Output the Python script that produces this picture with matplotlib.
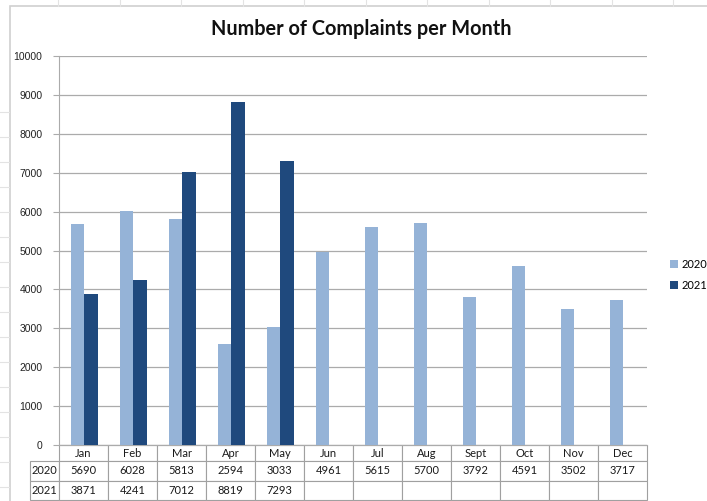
import numpy as np
import matplotlib
matplotlib.use("Agg")
import matplotlib.pyplot as plt
from matplotlib.patches import Rectangle

# monthly complaint counts
months = ["Jan", "Feb", "Mar", "Apr", "May", "Jun", "Jul", "Aug", "Sept", "Oct", "Nov", "Dec"]
counts_2020 = [5690, 6028, 5813, 2594, 3033, 4961, 5615, 5700, 3792, 4591, 3502, 3717]
counts_2021 = [3871, 4241, 7012, 8819, 7293]
series_names = ["2020", "2021"]
y_ticks = list(range(0, 10001, 1000))

W, H = 707, 501
light = "#95B3D7"
dark = "#1F497D"
grid_col = "#ABABAB"

plt.rcParams["font.family"] = ["Liberation Sans", "DejaVu Sans"]
fig = plt.figure(figsize=(W / 100, H / 100), dpi=100)

# faint spreadsheet grid behind the chart object
for xp in np.arange(58, W, 61.5):
    fig.add_artist(plt.Line2D([xp / W, xp / W], [1, 1 - 6 / H], color="#E3E3E3", lw=0.8))
for yp in np.arange(112, H, 25):
    fig.add_artist(plt.Line2D([0, 9 / W], [1 - yp / H, 1 - yp / H], color="#E3E3E3", lw=0.8))
# chart area border
fig.add_artist(Rectangle((10 / W, -0.05), 1.0, 1 - 6 / H + 0.05, transform=fig.transFigure,
                         facecolor="white", edgecolor="#D0D0D0", lw=1.2, zorder=0))

ax = fig.add_axes([59 / W, (H - 445) / H, (647 - 59) / W, (445 - 56) / H])
ax.set_facecolor("none")

x = np.arange(len(months))
w = 0.28
ax.bar(x - w / 2 + 0.02, counts_2020, w, color=light, label=series_names[0], zorder=3)
ax.bar(x[:len(counts_2021)] + w / 2 + 0.02, counts_2021, w, color=dark, label=series_names[1], zorder=3)

ax.set_xlim(-0.5, len(months) - 0.5)
ax.set_ylim(0, 10000)
ax.set_yticks(y_ticks)
ax.tick_params(axis="y", length=4, width=0.8, color=grid_col, labelsize=7.5, pad=8, labelcolor="#222222")
ax.set_xticks([])
ax.yaxis.grid(True, color=grid_col, lw=0.9)
ax.set_axisbelow(True)
for s in ["top", "right"]:
    ax.spines[s].set_visible(False)
ax.spines["left"].set_color(grid_col)
ax.spines["bottom"].set_color(grid_col)

# data table under the axis
cell_text = [[""] + months,
             [series_names[0]] + [str(v) for v in counts_2020],
             [series_names[1]] + [str(v) for v in counts_2021] + [""] * (len(months) - len(counts_2021))]
label_w = 29
col_w = (647 - 59) / len(months)
tbl = ax.table(cellText=cell_text, colWidths=[label_w] + [col_w] * len(months), cellLoc="center",
               bbox=[-label_w / 588, -(500 - 445) / 389, (647 - 30) / 588, (500 - 445) / 389])
tbl.auto_set_font_size(False)
tbl.set_fontsize(8)
row_h = [16, 19, 19]
for (r, c), cell in tbl.get_celld().items():
    cell.set_height(row_h[r])
    cell.set_edgecolor("#A0A0A0")
    cell.set_linewidth(0.8)
    cell.get_text().set_fontfamily(["Lato", "DejaVu Sans"])
    cell.get_text().set_color("#1A1A1A")
    cell.PAD = 0.02
tbl[0, 0].visible_edges = ""

fig.text(361 / W, 1 - 29 / H, "Number of Complaints per Month", ha="center", va="center",
         fontsize=14.3, fontweight="bold", family=["Lato", "DejaVu Sans"], color="#111111")

fig.legend(loc="center left", bbox_to_anchor=(660 / W, 1 - 275 / H), frameon=False,
           handlelength=0.7, handleheight=0.7, handletextpad=0.3, labelspacing=0.9,
           prop={"family": ["Lato", "DejaVu Sans"], "size": 8})

fig.savefig("out.png", dpi=100)
